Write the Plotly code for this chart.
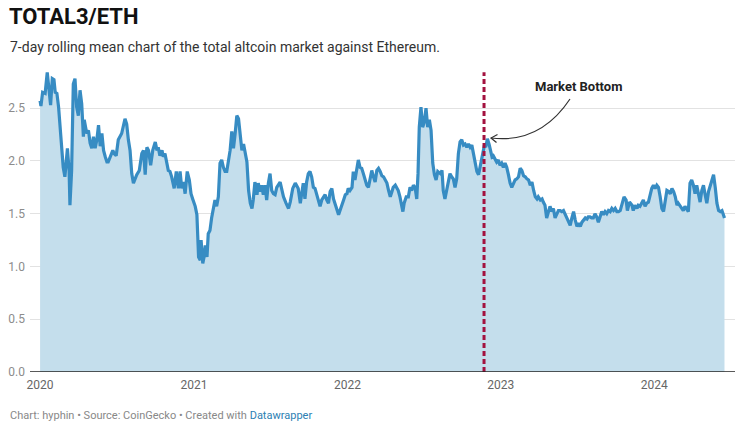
import pandas as pd
import plotly.graph_objects as go

# ---------------- data (days since 2020-01-01, 7-day rolling TOTAL3/ETH) ----------------
START = "2020-01-01"

days_2020 = [0, 2, 6, 12, 17, 21, 25, 29, 33, 36,
             40, 44, 48, 52, 55, 59, 65, 69, 71, 75,
             79, 83, 87, 91, 95, 99, 103, 105, 111, 115,
             119, 123, 127, 131, 135, 139, 143, 147, 151, 155,
             159, 162, 167, 173, 176, 181, 186, 194, 202, 206,
             210, 214, 218, 222, 230, 236, 242, 246, 250, 254,
             258, 263, 268, 274, 278, 281, 285, 290, 293, 297,
             301, 305, 309, 313, 319, 324, 329, 333, 337, 341,
             345, 350, 355, 359, 363]
vals_2020 = [2.57, 2.52, 2.65, 2.64, 2.84, 2.70, 2.53, 2.78, 2.77, 2.65,
             2.64, 2.51, 2.26, 2.04, 1.94, 1.85, 2.12, 1.91, 1.58, 1.91,
             2.73, 2.78, 2.51, 2.43, 2.67, 2.54, 2.23, 2.39, 2.26, 2.29,
             2.17, 2.12, 2.23, 2.12, 2.20, 2.34, 2.14, 2.26, 2.10, 2.04,
             1.99, 1.99, 2.04, 2.10, 2.07, 2.05, 2.20, 2.26, 2.40, 2.35,
             2.20, 2.10, 1.88, 1.79, 1.87, 1.91, 2.07, 2.10, 1.87, 2.13,
             2.10, 1.96, 2.10, 2.18, 2.10, 2.13, 2.05, 2.10, 2.04, 2.07,
             1.99, 1.91, 1.90, 1.85, 1.74, 1.90, 1.74, 1.90, 1.74, 1.80,
             1.69, 1.90, 1.82, 1.69, 1.64]

days_2021 = [369, 373, 377, 381, 383, 387, 390, 393, 397, 400,
             404, 408, 412, 416, 420, 424, 428, 432, 436, 440,
             444, 448, 452, 456, 460, 464, 468, 472, 476, 480,
             484, 488, 492, 496, 500, 504, 507, 511, 516, 519,
             523, 527, 531, 535, 539, 543, 547, 551, 555, 559,
             563, 571, 575, 579, 585, 591, 595, 601, 607, 611,
             614, 619, 623, 626, 630, 634, 638, 642, 646, 650,
             654, 658, 662, 666, 670, 674, 678, 682, 686, 690,
             694, 698, 702, 706, 710, 714, 722, 726]
vals_2021 = [1.57, 1.49, 1.09, 1.06, 1.25, 1.03, 1.09, 1.20, 1.09, 1.31,
             1.34, 1.46, 1.53, 1.63, 1.57, 1.66, 1.98, 2.01, 1.94, 1.90,
             1.90, 1.99, 2.10, 2.28, 2.12, 2.26, 2.43, 2.40, 2.26, 2.10,
             2.16, 2.07, 1.99, 1.72, 1.60, 1.55, 1.63, 1.80, 1.68, 1.79,
             1.71, 1.77, 1.68, 1.77, 1.63, 1.79, 1.88, 1.72, 1.69, 1.68,
             1.75, 1.80, 1.74, 1.66, 1.60, 1.55, 1.61, 1.74, 1.79, 1.75,
             1.74, 1.60, 1.69, 1.79, 1.64, 1.80, 1.88, 1.90, 1.85, 1.75,
             1.74, 1.69, 1.64, 1.57, 1.63, 1.66, 1.68, 1.63, 1.60, 1.71,
             1.74, 1.64, 1.60, 1.54, 1.49, 1.53, 1.63, 1.68]

days_2022 = [730, 733, 737, 742, 745, 749, 753, 757, 761, 765,
             769, 773, 777, 781, 785, 789, 793, 797, 801, 805,
             809, 813, 817, 821, 825, 829, 833, 837, 840, 845,
             849, 852, 856, 860, 863, 866, 871, 876, 880, 884,
             888, 892, 896, 899, 902, 906, 910, 914, 918, 922,
             926, 930, 934, 938, 942, 946, 952, 956, 959, 963,
             968, 971, 975, 979, 983, 987, 991, 995, 999, 1003,
             1007, 1011, 1015, 1019, 1023, 1027, 1031, 1035, 1039, 1043,
             1047, 1051, 1055, 1057, 1060, 1064, 1068, 1071, 1075, 1078,
             1082, 1086, 1090]
vals_2022 = [1.69, 1.74, 1.72, 1.75, 1.90, 1.82, 1.91, 2.01, 1.94, 1.93,
             1.88, 1.82, 1.77, 1.75, 1.82, 1.91, 1.85, 1.80, 1.91, 1.93,
             1.90, 1.86, 1.85, 1.82, 1.79, 1.72, 1.66, 1.71, 1.75, 1.77,
             1.74, 1.72, 1.66, 1.57, 1.52, 1.60, 1.66, 1.66, 1.75, 1.72,
             1.77, 1.75, 1.64, 1.88, 2.32, 2.51, 2.32, 2.37, 2.50, 2.32,
             2.39, 2.29, 1.98, 1.87, 1.82, 1.90, 1.88, 1.91, 1.72, 1.64,
             1.75, 1.83, 1.88, 1.85, 1.83, 1.75, 1.83, 2.07, 2.18, 2.20,
             2.15, 2.16, 2.13, 2.16, 2.13, 2.15, 2.07, 1.98, 1.90, 1.87,
             1.96, 2.05, 2.12, 2.15, 2.13, 2.21, 2.16, 2.10, 2.04, 2.05,
             2.01, 1.99, 2.01]

days_2023 = [1094, 1098, 1102, 1106, 1110, 1114, 1118, 1122, 1126, 1130,
             1134, 1138, 1142, 1146, 1150, 1154, 1158, 1162, 1166, 1170,
             1174, 1178, 1182, 1185, 1190, 1194, 1197, 1201, 1205, 1209,
             1213, 1217, 1221, 1225, 1229, 1233, 1237, 1241, 1245, 1249,
             1253, 1257, 1261, 1265, 1269, 1273, 1277, 1281, 1285, 1289,
             1293, 1297, 1301, 1304, 1308, 1312, 1316, 1320, 1324, 1328,
             1332, 1336, 1340, 1344, 1348, 1352, 1356, 1360, 1364, 1368,
             1372, 1376, 1380, 1384, 1389, 1394, 1397, 1402, 1408, 1411,
             1415, 1420, 1423, 1427, 1431, 1435, 1439, 1443, 1447, 1451,
             1455]
vals_2023 = [1.96, 1.98, 1.94, 1.98, 1.94, 1.87, 1.79, 1.75, 1.79, 1.82,
             1.83, 1.85, 1.93, 1.91, 1.86, 1.85, 1.83, 1.82, 1.77, 1.80,
             1.72, 1.66, 1.64, 1.66, 1.63, 1.64, 1.61, 1.58, 1.46, 1.53,
             1.57, 1.52, 1.55, 1.46, 1.49, 1.53, 1.53, 1.52, 1.53, 1.49,
             1.47, 1.42, 1.39, 1.46, 1.52, 1.44, 1.38, 1.41, 1.38, 1.42,
             1.44, 1.46, 1.45, 1.47, 1.47, 1.46, 1.46, 1.50, 1.47, 1.42,
             1.47, 1.52, 1.49, 1.52, 1.50, 1.53, 1.52, 1.55, 1.53, 1.55,
             1.52, 1.52, 1.53, 1.58, 1.66, 1.63, 1.53, 1.61, 1.58, 1.53,
             1.58, 1.55, 1.58, 1.57, 1.60, 1.63, 1.57, 1.60, 1.61, 1.69,
             1.74]

days_2024 = [1459, 1463, 1467, 1471, 1475, 1479, 1483, 1487, 1491, 1495,
             1499, 1503, 1507, 1511, 1515, 1518, 1523, 1527, 1530, 1534,
             1538, 1542, 1546, 1550, 1554, 1558, 1562, 1566, 1570, 1574,
             1578, 1582, 1586, 1590, 1594, 1598, 1602, 1606, 1610, 1614,
             1618, 1622, 1626, 1628]
vals_2024 = [1.77, 1.74, 1.77, 1.75, 1.66, 1.55, 1.52, 1.63, 1.72, 1.71,
             1.69, 1.74, 1.71, 1.66, 1.58, 1.60, 1.57, 1.55, 1.53, 1.57,
             1.55, 1.52, 1.79, 1.82, 1.77, 1.69, 1.77, 1.68, 1.61, 1.72,
             1.77, 1.68, 1.60, 1.71, 1.77, 1.83, 1.87, 1.75, 1.60, 1.53,
             1.52, 1.53, 1.49, 1.46]

market_bottom_date = "2022-11-22"
market_bottom_label = "Market Bottom"

x_ticks = ["2020-01-01", "2021-01-01", "2022-01-01", "2023-01-01", "2024-01-01"]
x_tick_labels = ["2020", "2021", "2022", "2023", "2024"]
y_ticks = [0, 0.5, 1.0, 1.5, 2.0, 2.5]
y_tick_labels = ["0.0", "0.5", "1.0", "1.5", "2.0", "2.5"]

title = "TOTAL3/ETH"
subtitle = "7-day rolling mean chart of the total altcoin market against Ethereum."
footer = ("Chart: hyphin • Source: CoinGecko • Created with "
          "<span style='color:#2d7fb3'>Datawrapper</span>")

# ---------------- build ----------------
days = days_2020 + days_2021 + days_2022 + days_2023 + days_2024
vals = vals_2020 + vals_2021 + vals_2022 + vals_2023 + vals_2024
assert len(days) == len(vals)
dates = pd.Timestamp(START) + pd.to_timedelta(days, unit="D")

W, H = 737, 428
ML, MR, MT, MB = 30, 2, 66, 56
PW, PH = W - ML - MR, H - MT - MB


def px(x):
    return (x - ML) / PW


def py(y):
    return (H - MB - y) / PH


FONT = "Roboto, 'Noto Sans', Arial, sans-serif"
LINE = "#378cc3"
FILL = "#c4deec"
RED = "#a3123f"

fig = go.Figure()
fig.add_trace(go.Scatter(
    x=dates, y=vals, mode="lines",
    line=dict(color=LINE, width=3.2),
    fill="tozeroy", fillcolor=FILL,
    hoverinfo="x+y", showlegend=False,
))

shapes = [
    # market bottom marker
    dict(type="line", xref="x", yref="y", x0=market_bottom_date, x1=market_bottom_date,
         y0=0, y1=2.84, line=dict(color=RED, width=3, dash="5px,3px"), layer="above"),
    # baseline
    dict(type="line", xref="paper", yref="y", x0=0, x1=1, y0=0, y1=0,
         line=dict(color="#222222", width=1.3), layer="above"),
]

# curved arrow from label to the peak
p0 = (px(570), py(99))
c = (px(540), py(144))
p2 = (px(491), py(138))
w1 = (px(497.5), py(134.5))
w2 = (px(496.5), py(142.5))
shapes.append(dict(
    type="path", xref="paper", yref="paper",
    path=f"M {p0[0]},{p0[1]} Q {c[0]},{c[1]} {p2[0]},{p2[1]}",
    line=dict(color="#333333", width=1.2), layer="above"))
shapes.append(dict(
    type="path", xref="paper", yref="paper",
    path=f"M {w1[0]},{w1[1]} L {p2[0]},{p2[1]} L {w2[0]},{w2[1]}",
    line=dict(color="#333333", width=1.2), layer="above"))

annotations = [
    dict(text=f"<b>{title}</b>", xref="paper", yref="paper", x=px(7), y=py(17),
         xanchor="left", yanchor="middle", showarrow=False,
         font=dict(family=FONT, size=22, color="#111111")),
    dict(text=subtitle, xref="paper", yref="paper", x=px(8), y=py(47),
         xanchor="left", yanchor="middle", showarrow=False,
         font=dict(family=FONT, size=14, color="#333333")),
    dict(text=footer, xref="paper", yref="paper", x=px(8), y=py(415),
         xanchor="left", yanchor="middle", showarrow=False,
         font=dict(family=FONT, size=11, color="#888888")),
    dict(text=f"<b>{market_bottom_label}</b>", xref="paper", yref="paper",
         x=px(578), y=py(86), xanchor="center", yanchor="middle", showarrow=False,
         font=dict(family=FONT, size=13, color="#222222")),
]

fig.update_layout(
    width=W, height=H,
    margin=dict(l=ML, r=MR, t=MT, b=MB, pad=0),
    paper_bgcolor="white", plot_bgcolor="white",
    font=dict(family=FONT),
    shapes=shapes, annotations=annotations,
    xaxis=dict(
        type="date", range=["2019-12-08", "2024-07-11"],
        tickvals=x_ticks, ticktext=x_tick_labels,
        showgrid=False, zeroline=False, showline=False, ticks="",
        ticklabelstandoff=4,
        tickfont=dict(family=FONT, size=12, color="#666666"),
    ),
    yaxis=dict(
        range=[0, 2.9], tickvals=y_ticks, ticktext=y_tick_labels,
        showgrid=True, gridcolor="#e2e2e2", gridwidth=1,
        zeroline=False, showline=False, ticks="",
        ticklabelstandoff=4,
        tickfont=dict(family=FONT, size=12, color="#8c8c8c"),
    ),
)

fig.write_html(
    "out.html",
    config={"displayModeBar": False},
    post_script="document.body.style.margin='0';document.body.style.overflow='hidden';",
)
